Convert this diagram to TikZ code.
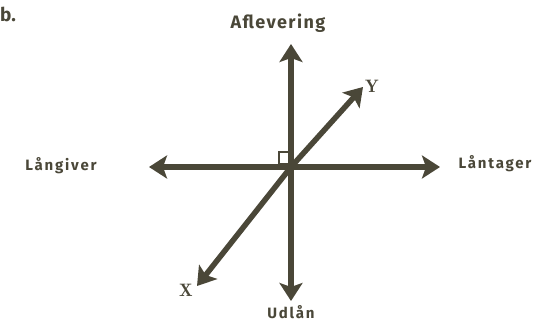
\documentclass[tikz,border=0pt]{standalone}
\usepackage{fontspec}
\setmainfont{Fira Sans}
\usetikzlibrary{arrows.meta}
\definecolor{ink}{HTML}{4A4738}
\tikzset{
  axis/.style={draw=ink, line width=5.5pt, -{Stealth[length=18pt,width=23pt,inset=4pt]}},
  lbl/.style={text=ink, font=\bfseries\fontsize{15}{17}\selectfont\addfontfeature{LetterSpace=12}, inner sep=0pt},
  letter/.style={text=ink, font=\fontfamily{lmr}\bfseries\fontsize{18}{20}\selectfont, inner sep=0pt}
}
\begin{document}
\begin{tikzpicture}[x=1pt,y=-1pt]
\useasboundingbox (0,0) rectangle (535,321);
\coordinate (o) at (291,167);
\coordinate (top) at (291,44);
\coordinate (bot) at (291,301);
\coordinate (lft) at (149,167);
\coordinate (rgt) at (440,167);
\coordinate (xe) at (197,286);
\coordinate (ye) at (363,87);
\draw[axis] (o) -- (top);
\draw[axis] (o) -- (bot);
\draw[axis] (o) -- (lft);
\draw[axis] (o) -- (rgt);
\draw[axis] (o) -- (xe);
\draw[axis] (o) -- (ye);
\draw[draw=ink, line width=2pt] (279,152) rectangle (290,164);
\node[lbl, font=\bfseries\fontsize{19}{21}\selectfont] (b) at (8,14) {b.};
\node[lbl, font=\bfseries\fontsize{18}{20}\selectfont\addfontfeature{LetterSpace=8}] (afl) at (278,23) {Aflevering};
\node[lbl] (lg) at (61,166) {Långiver};
\node[lbl] (lt) at (495,164) {Låntager};
\node[lbl] (ud) at (291,312) {Udlån};
\node[letter] (X) at (186,290) {X};
\node[letter] (Y) at (372,86) {Y};
\end{tikzpicture}
\end{document}
